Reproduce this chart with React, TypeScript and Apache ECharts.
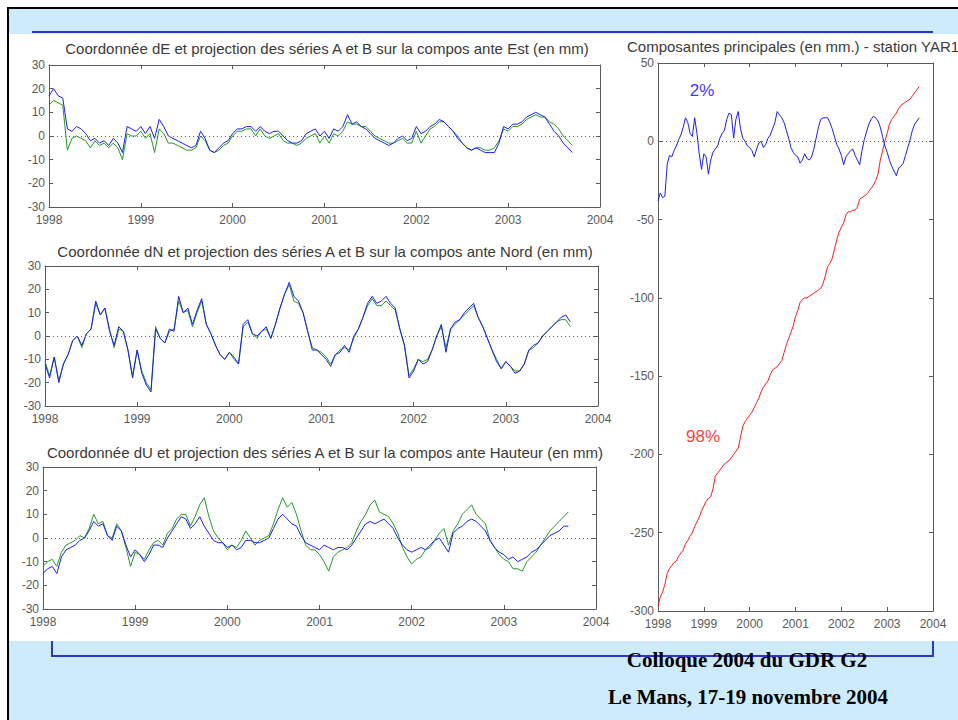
import React, { useEffect, useRef } from "react";
import * as echarts from "echarts";

// time sampling: one value every 0.05 year from 1998.00
const T0 = 1998;
const DT = 0.05;

const X_MIN = 1998;
const X_MAX = 2004;

// ---- Panel 1 : dE ----
const dE_blue = [
  17, 20, 17, 16, 3, 2, 4, 3, 1, -2, -1, -3, -2, -4, -1, -3, -7, 4, 3, 2,
  4, 1, 4, -1, 7, 4, 0, -1, -2, -3, -4, -5, -4, 2, -1, -6, -7, -5, -3, -2,
  1, 3, 3, 4, 4, 2, 4, 2, 1, 2, 2, 0, -2, -3, -3, -2, 1, 2, 3, 0,
  2, -1, 3, 2, 4, 9, 5, 6, 4, 3, 1, -1, -2, -3, -4, -3, -1, 0, -2, -1,
  4, 1, 2, 4, 5, 7, 6, 4, 2, -1, -3, -5, -6, -5, -6, -7, -7, -7, -3, 4,
  3, 5, 5, 6, 8, 9, 10, 9, 8, 5, 2, 0, -3, -5, -7,
];
const dE_green = [
  13, 15, 14, 13, -6, -1, 0, -1, -2, -5, -2, -4, -3, -5, -3, -5, -10, 1, 0, 0,
  2, -1, 1, -7, 3, 1, -3, -3, -4, -5, -6, -6, -5, 0, -2, -6, -7, -6, -4, -3,
  0, 2, 2, 3, 3, 0, 3, 0, -1, 0, 1, -2, -3, -3, -4, -3, -1, 0, 1, -3,
  0, -3, 1, 0, 2, 6, 5, 5, 4, 4, 2, 0, -1, -2, -3, -3, -2, -1, -3, -3,
  2, -3, 0, 3, 4, 6, 6, 4, 2, 0, -3, -5, -6, -5, -5, -6, -6, -5, -2, 3,
  2, 4, 4, 5, 7, 8, 9, 8, 8, 6, 5, 3, 0, -2, -4,
];

// ---- Panel 2 : dN ----
const dN_blue = [
  -12, -18, -9, -20, -12, -8, -2, 0, -4, 1, 3, 15, 9, 12, 2, -4, 4, 2, -6, -18,
  -6, -16, -21, -24, 3, -1, -3, 3, 2, 17, 10, 12, 5, 11, 16, 5, 1, -4, -8, -10,
  -7, -9, -12, 5, 7, 1, 0, 2, 4, -1, 5, 12, 18, 23, 17, 15, 10, 2, -6, -6,
  -8, -10, -13, -8, -7, -4, -7, 0, 3, 8, 14, 17, 14, 15, 17, 14, 12, 3, -4, -18,
  -15, -10, -12, -11, -6, 0, 5, -7, 3, 6, 7, 10, 12, 14, 8, 4, -1, -6, -11, -14,
  -11, -13, -16, -15, -12, -6, -4, -3, 0, 2, 4, 6, 8, 9, 6,
];
const dN_green = [
  -11, -17, -9, -19, -12, -8, -2, 0, -5, 1, 3, 14, 9, 12, 3, -5, 3, 2, -6, -17,
  -6, -15, -20, -23, 4, -1, -3, 2, 3, 15, 10, 11, 4, 10, 15, 5, 1, -4, -8, -10,
  -7, -10, -12, 4, 6, 1, -1, 2, 3, -1, 5, 12, 18, 22, 15, 14, 10, 2, -5, -6,
  -7, -9, -12, -8, -6, -5, -6, -1, 3, 8, 13, 16, 13, 13, 15, 13, 11, 3, -4, -17,
  -14, -10, -11, -10, -6, 0, 4, -5, 3, 5, 7, 9, 11, 13, 8, 4, -1, -6, -10, -14,
  -11, -13, -15, -15, -12, -6, -5, -3, 0, 2, 4, 6, 7, 7, 4,
];

// ---- Panel 3 : dU ----
const dU_blue = [
  -15, -13, -12, -15, -8, -5, -4, -3, -1, 0, 3, 7, 5, 6, 1, -1, 5, 3, -3, -8,
  -5, -7, -10, -7, -3, -3, -4, 0, 3, 6, 9, 8, 4, 6, 9, 5, 2, -1, -2, -2,
  -4, -3, -5, -4, -1, -1, -2, -2, -1, 0, 4, 8, 10, 8, 6, 5, 1, -2, -3, -4,
  -5, -3, -4, -5, -4, -4, -5, -3, 0, 3, 6, 7, 6, 7, 8, 6, 4, 0, -3, -5,
  -6, -5, -4, -5, -3, -1, 0, -3, -6, 2, 4, 5, 7, 8, 7, 5, 3, -1, -4, -6,
  -7, -9, -8, -10, -9, -8, -6, -5, -3, -1, 1, 2, 3, 5, 5,
];
const dU_green = [
  -12, -10, -9, -12, -6, -3, -2, -1, 1, 0, 4, 10, 6, 7, 1, 0, 6, 3, -4, -12,
  -6, -7, -9, -5, -2, -1, -3, 2, 4, 8, 10, 10, 5, 9, 14, 17, 9, 3, 0, -2,
  -5, -3, -4, -1, 3, 0, -3, -1, 0, 1, 6, 12, 17, 13, 15, 10, 3, -3, -5, -5,
  -7, -10, -14, -8, -6, -5, -4, -2, 3, 7, 10, 14, 16, 11, 10, 9, 6, 2, -4, -8,
  -11, -9, -8, -5, -4, -1, 2, 4, -3, 3, 6, 10, 12, 14, 10, 8, 6, -1, -4, -7,
  -9, -10, -13, -13, -14, -10, -8, -6, -3, 0, 3, 5, 7, 9, 11,
];

// ---- Panel 4 : principal components ----
const pc_blue = [
  -38, -33, -36, -35, -15, -9, -10, -6, -3, 1, 4, 9, 15, 12, 5, 3, 15, 5, -8, -18,
  -8, -10, -21, -12, -7, -5, -3, 2, 5, 7, 14, 18, 17, 2, 14, 19, 8, 2, 0, -3,
  -4, -6, -10, -5, -1, 0, -4, -2, 2, 4, 8, 12, 19, 17, 15, 12, 7, 2, -4, -7,
  -9, -10, -14, -12, -8, -11, -12, -10, -5, 2, 9, 14, 15, 15, 15, 12, 8, 3, -2, -5,
  -9, -15, -10, -8, -6, -5, -9, -12, -15, -6, 1, 6, 11, 14, 16, 15, 13, 9, 3, -3,
  -7, -12, -16, -19, -22, -17, -16, -14, -9, -4, 1, 7, 11, 13, 15,
];
const pc_red = [
  -297, -291, -288, -283, -276, -273, -271, -269, -268, -265, -263, -261, -257, -255, -252, -250, -246, -243, -240, -236,
  -233, -230, -228, -227, -222, -214, -212, -210, -208, -206, -205, -204, -202, -200, -198, -196, -189, -182, -179, -177,
  -175, -173, -170, -167, -164, -160, -157, -155, -153, -149, -146, -145, -144, -142, -140, -135, -130, -126, -122, -118,
  -112, -108, -103, -101, -100, -100, -99, -98, -97, -96, -95, -94, -91, -86, -80, -78, -75, -69, -63, -58,
  -55, -52, -47, -45, -45, -44, -44, -42, -37, -36, -35, -34, -32, -30, -28, -25, -21, -12, -6, 0,
  5, 11, 14, 16, 18, 21, 23, 24, 25, 26, 27, 29, 31, 33, 35,
];

const TITLES = [
  "Coordonnée dE et projection des séries A et B sur la compos ante Est (en mm)",
  "Coordonnée dN et projection des séries A et B sur la compos ante Nord (en mm)",
  "Coordonnée dU et projection des séries A et B sur la compos ante Hauteur (en mm)",
  "Composantes principales (en mm.) - station YAR1",
];
const FOOTER = ["Colloque 2004 du GDR G2", "Le Mans, 17-19 novembre 2004"];

const BLUE = "#1c1cff";
const GREEN = "#1f9a28";
const RED = "#ff1a1a";
const FRAME = "#5a5a5a";
const SANS = '"Liberation Sans", Arial, Helvetica, sans-serif';

const PANELS = [
  { l: 49, t: 65, r: 600, b: 207, ymin: -30, ymax: 30, yint: 10 },
  { l: 45, t: 266, r: 598, b: 406, ymin: -30, ymax: 30, yint: 10 },
  { l: 43, t: 467, r: 596, b: 609, ymin: -30, ymax: 30, yint: 10 },
  { l: 658, t: 63, r: 933, b: 611, ymin: -300, ymax: 50, yint: 50 },
];

const toPairs = (vals: number[]) =>
  vals.map((v, i) => [Math.round((T0 + i * DT) * 100) / 100, v]);

export default function App() {
  const ref = useRef<HTMLDivElement>(null);

  useEffect(() => {
    if (!ref.current) return;
    const chart = echarts.init(ref.current, null, { renderer: "svg" });

    const grid = PANELS.map((p) => ({
      left: p.l,
      top: p.t,
      width: p.r - p.l,
      height: p.b - p.t,
      show: false,
    }));

    const xAxis: any[] = [];
    const yAxis: any[] = [];
    PANELS.forEach((p, i) => {
      ["bottom", "top"].forEach((pos, k) => {
        xAxis.push({
          type: "value",
          gridIndex: i,
          position: pos,
          min: X_MIN,
          max: X_MAX,
          interval: 1,
          axisLine: { show: true, onZero: false, lineStyle: { color: FRAME, width: 1 } },
          axisTick: { show: true, inside: true, length: 4, lineStyle: { color: FRAME } },
          axisLabel: {
            show: k === 0,
            color: "#5a5a5a",
            fontSize: 12,
            lineHeight: 12,
            fontFamily: SANS,
            margin: 7,
            showMinLabel: true,
            showMaxLabel: true,
            formatter: (v: number) => String(v),
          },
          splitLine: { show: false },
        });
      });
      ["left", "right"].forEach((pos, k) => {
        yAxis.push({
          type: "value",
          gridIndex: i,
          position: pos,
          min: p.ymin,
          max: p.ymax,
          interval: p.yint,
          axisLine: { show: true, onZero: false, lineStyle: { color: FRAME, width: 1 } },
          axisTick: { show: true, inside: true, length: 4, lineStyle: { color: FRAME } },
          axisLabel: {
            show: k === 0,
            color: "#5a5a5a",
            fontSize: 12,
            lineHeight: 9,
            fontFamily: SANS,
            margin: 4,
            showMinLabel: true,
            showMaxLabel: true,
          },
          splitLine: { show: false },
        });
      });
    });

    const zeroLine = {
      silent: true,
      symbol: ["none", "none"],
      label: { show: false },
      lineStyle: { type: [1, 3], color: "#666", width: 1 },
      data: [{ yAxis: 0 }],
    };

    const line = (name: string, vals: number[], idx: number, color: string, withZero: boolean) => ({
      name,
      type: "line",
      xAxisIndex: idx * 2,
      yAxisIndex: idx * 2,
      data: toPairs(vals),
      symbol: "none",
      showSymbol: false,
      lineStyle: { color, width: 1 },
      itemStyle: { color },
      markLine: withZero ? zeroLine : undefined,
    });

    const series = [
      line("dE série B", dE_green, 0, GREEN, true),
      line("dE série A", dE_blue, 0, BLUE, false),
      line("dN série B", dN_green, 1, GREEN, true),
      line("dN série A", dN_blue, 1, BLUE, false),
      line("dU série B", dU_green, 2, GREEN, true),
      line("dU série A", dU_blue, 2, BLUE, false),
      line("Composante 98%", pc_red, 3, RED, true),
      line("Composante 2%", pc_blue, 3, BLUE, false),
    ];

    const txt = (text: string, x: number, y: number, font: string, fill: string, align = "center") => ({
      type: "text",
      x,
      y,
      silent: true,
      style: { text, font, fill, textAlign: align, textVerticalAlign: "middle" },
    });

    const TFONT = `15px ${SANS}`;
    const graphic = [
      txt(TITLES[0], 327, 48, TFONT, "#3a3a3a"),
      txt(TITLES[1], 325, 251, TFONT, "#3a3a3a"),
      txt(TITLES[2], 325, 452, TFONT, "#3a3a3a"),
      txt(TITLES[3], 627, 46, TFONT, "#3a3a3a", "left"),
      txt("2%", 702, 90, `17px ${SANS}`, "#3b3bff"),
      txt("98%", 703, 436, `17px ${SANS}`, "#ff4040"),
      txt(FOOTER[0], 747, 660, `bold 21px "Liberation Serif", "Times New Roman", serif`, "#000"),
      txt(FOOTER[1], 748, 697, `bold 21px "Liberation Serif", "Times New Roman", serif`, "#000"),
    ];

    chart.setOption({
      animation: false,
      backgroundColor: "transparent",
      grid,
      xAxis,
      yAxis,
      series,
      graphic,
    });

    return () => chart.dispose();
  }, []);

  return (
    <div style={{ position: "fixed", left: 0, top: 0, width: 958, height: 720, background: "#fff", overflow: "hidden" }}>
      <div
        style={{
          position: "absolute",
          left: 7,
          top: 7,
          width: 951,
          height: 713,
          borderLeft: "2px solid #000",
          borderTop: "2px solid #000",
          background: "#cdebfc",
          boxSizing: "border-box",
        }}
      />
      <div style={{ position: "absolute", left: 9, top: 34, width: 949, height: 607, background: "#fff" }} />
      <div style={{ position: "absolute", left: 32, top: 31, width: 901, height: 2, background: "#3434c4" }} />
      <div
        style={{
          position: "absolute",
          left: 51,
          top: 641,
          width: 883,
          height: 16,
          borderLeft: "2px solid #3434c4",
          borderRight: "2px solid #3434c4",
          borderBottom: "2px solid #3434c4",
          boxSizing: "border-box",
        }}
      />
      <div ref={ref} style={{ position: "absolute", left: 0, top: 0, width: 958, height: 720 }} />
    </div>
  );
}
